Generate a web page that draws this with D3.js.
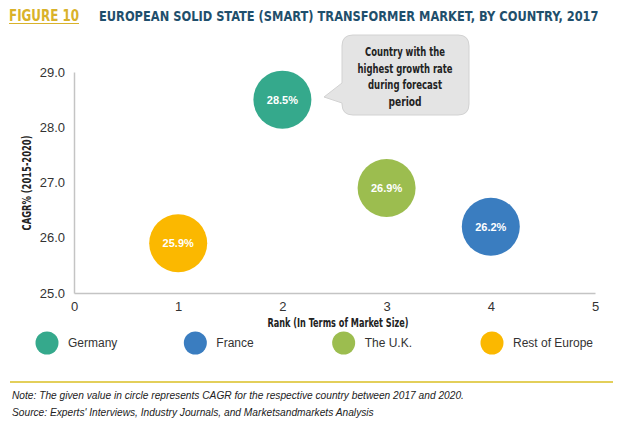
<!DOCTYPE html>
<html><head><meta charset="utf-8">
<script src="https://cdn.jsdelivr.net/npm/d3@7"></script>
<style>
body{margin:0;background:#fff;}
svg{display:block;}
.cond{font-family:'Liberation Sans Narrow','DejaVu Sans Condensed',sans-serif;font-weight:bold;}
.reg{font-family:'Liberation Sans',Arial,sans-serif;}
</style></head>
<body>
<svg id="chart" width="620" height="426"></svg>
<script>
const countries = ["Germany", "France", "The U.K.", "Rest of Europe"];
const ranks = [2, 4, 3, 1];
const cagr = [28.5, 26.2, 26.9, 25.9];
const colors = ["#35a98c", "#3a7dc0", "#9cbd4f", "#fbb800"];
const xTicks = [0, 1, 2, 3, 4, 5];
const yTicks = [25, 26, 27, 28, 29];
const calloutLines = ["Country with the", "highest growth rate", "during forecast", "period"];
const calloutWidths = [80, 95, 74, 33];

const svg = d3.select("#chart");
const x = d3.scaleLinear().domain([0, 5]).range([74, 595]);
const y = d3.scaleLinear().domain([25, 29]).range([293, 72]);

// Title
svg.append("text").attr("class","cond").attr("x",9).attr("y",21)
  .attr("font-size",15).attr("fill","#d9b22a").attr("textLength",70).attr("lengthAdjust","spacingAndGlyphs")
  .text("FIGURE 10");
svg.append("line").attr("x1",9).attr("x2",79).attr("y1",23.5).attr("y2",23.5).attr("stroke","#d9b22a").attr("stroke-width",1.2);
const title = svg.append("g").attr("transform","translate(99,21)");
const tt = title.append("text").attr("class","cond").attr("x",0).attr("y",0)
  .attr("font-size",14.5).attr("fill","#1f4f6c")
  .text("EUROPEAN SOLID STATE (SMART) TRANSFORMER MARKET, BY COUNTRY, 2017");
const tw = tt.node().getComputedTextLength();
title.attr("transform",`translate(99,21) scale(${500/tw},1)`);

// Axes
const xAxis = d3.axisBottom(x).tickValues(xTicks).tickSize(0).tickPadding(9).tickFormat(d3.format("d"));
const gx = svg.append("g").attr("transform",`translate(0,${y(25)})`).call(xAxis);
gx.select(".domain").attr("stroke","#c4c4c4").attr("stroke-width",1.5);
gx.selectAll("text").attr("class","reg").attr("font-size",13).attr("fill","#333");

const yAxis = d3.axisLeft(y).tickValues(yTicks).tickSize(0).tickPadding(9).tickFormat(d3.format(".1f"));
const gy = svg.append("g").attr("transform",`translate(${x(0)},0)`).call(yAxis);
gy.select(".domain").attr("stroke","#c4c4c4").attr("stroke-width",1.5);
gy.selectAll("text").attr("class","reg").attr("font-size",13).attr("fill","#333");

// Axis titles
svg.append("text").attr("class","cond").attr("x",338).attr("y",327).attr("text-anchor","middle")
  .attr("font-size",12).attr("fill","#222").attr("textLength",141).attr("lengthAdjust","spacingAndGlyphs")
  .text("Rank (In Terms of Market Size)");
svg.append("text").attr("class","cond").attr("transform","translate(31,183) rotate(-90)").attr("text-anchor","middle")
  .attr("font-size",11.5).attr("fill","#222").attr("textLength",95).attr("lengthAdjust","spacingAndGlyphs")
  .text("CAGR% (2015-2020)");

// Callout
const cx0 = 342, cy0 = 35, cw = 127, ch = 80, r = 11;
const tipX = 324, tipY = 97;
const path = `M${cx0+r},${cy0} H${cx0+cw-r} Q${cx0+cw},${cy0} ${cx0+cw},${cy0+r} V${cy0+ch-r} Q${cx0+cw},${cy0+ch} ${cx0+cw-r},${cy0+ch} H${cx0+r} Q${cx0},${cy0+ch} ${cx0},${cy0+ch-r} V${tipY+6} L${tipX},${tipY} L${cx0},${tipY-14} V${cy0+r} Q${cx0},${cy0} ${cx0+r},${cy0} Z`;
svg.append("path").attr("d",path).attr("fill","#e4e4e4").attr("stroke","#d2d2d2").attr("stroke-width",1);
svg.append("g").selectAll("text").data(calloutLines).join("text").attr("class","cond")
  .attr("x",405).attr("y",(d,i)=>56+i*16.5).attr("text-anchor","middle")
  .attr("font-size",12.5).attr("fill","#222")
  .attr("textLength",(d,i)=>calloutWidths[i]).attr("lengthAdjust","spacingAndGlyphs")
  .text(d=>d);

// Bubbles
const data = countries.map((c,i)=>({c, rank:ranks[i], v:cagr[i], col:colors[i]}));
const bub = svg.append("g").selectAll("g").data(data).join("g")
  .attr("transform",d=>`translate(${x(d.rank)},${y(d.v)})`);
bub.append("circle").attr("r",29).attr("fill",d=>d.col);
bub.append("text").attr("class","reg").attr("text-anchor","middle").attr("dy","0.36em")
  .attr("font-size",11).attr("font-weight","bold").attr("fill","#fff").text(d=>d.v.toFixed(1)+"%");

// Legend
const legX = d3.scaleLinear().domain([0,3]).range([47,492]);
const leg = svg.append("g").selectAll("g").data(data).join("g")
  .attr("transform",(d,i)=>`translate(${legX(i)},343)`);
leg.append("circle").attr("r",11.5).attr("fill",d=>d.col);
leg.append("text").attr("class","reg").attr("x",21).attr("dy","0.35em")
  .attr("font-size",12).attr("fill","#333").text(d=>d.c);

// Footer
svg.append("line").attr("x1",10).attr("x2",613).attr("y1",382).attr("y2",382).attr("stroke","#e3cf5a").attr("stroke-width",2);
svg.append("text").attr("class","reg").attr("x",12).attr("y",399).attr("font-size",10.2).attr("font-style","italic").attr("fill","#222")
  .text("Note: The given value in circle represents CAGR for the respective country between 2017 and 2020.");
svg.append("text").attr("class","reg").attr("x",12).attr("y",416).attr("font-size",10.2).attr("font-style","italic").attr("fill","#222")
  .text("Source: Experts' Interviews, Industry Journals, and Marketsandmarkets Analysis");
</script>
</body></html>
